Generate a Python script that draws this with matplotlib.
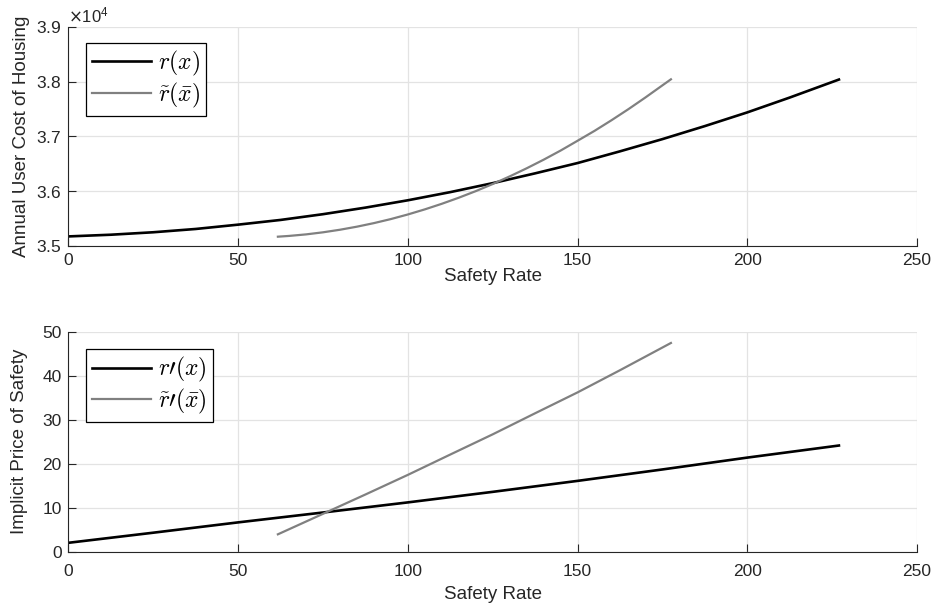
import numpy as np
import matplotlib
matplotlib.use("Agg")
import matplotlib.pyplot as plt
from matplotlib.ticker import ScalarFormatter

# Annual user cost of housing vs safety rate
r_x = [0, 12.5, 25, 37.5, 50, 62.5, 75, 87.5, 100, 112.5, 125, 137.5,
       150, 162.5, 175, 187.5, 200, 212.5, 227]
r_y = [35175, 35206, 35251, 35311, 35390, 35476, 35581, 35701, 35835, 35984,
       36148, 36327, 36515, 36729, 36952, 37190, 37440, 37711, 38040]

rt_x = [61.7, 65, 70, 75, 80, 85, 90, 95, 100, 105, 110, 115, 120, 125,
        130, 135, 140, 145, 150, 155, 160, 165, 170, 175, 177.5]
rt_y = [35170, 35184, 35212, 35250, 35297, 35353, 35418, 35492, 35576, 35669,
        35771, 35882, 36002, 36132, 36271, 36419, 36576, 36743, 36922, 37103,
        37297, 37500, 37713, 37934, 38044]

# Implicit price of safety (derivatives)
dr_x = [0, 25, 50, 75, 100, 125, 150, 175, 200, 227]
dr_y = [2.0, 4.3, 6.65, 8.9, 11.2, 13.6, 16.1, 18.7, 21.4, 24.15]

drt_x = [61.7, 75, 87.5, 100, 112.5, 125, 137.5, 150, 162.5, 177.5]
drt_y = [3.93, 8.6, 13.0, 17.47, 22.1, 26.7, 31.5, 36.25, 41.3, 47.5]

plt.rcParams['font.family'] = ['Liberation Sans', 'DejaVu Sans']
axis_col = '#262626'
grid_col = '#e3e3e3'

fig = plt.figure(figsize=(9.38, 6.13), dpi=100)
ax1 = fig.add_axes([0.073, 0.5987, 0.9046, 0.3573])
ax2 = fig.add_axes([0.073, 0.1002, 0.9046, 0.3582])


def style(ax, pad, labelpad):
    for s in ['top', 'right']:
        ax.spines[s].set_visible(False)
    for s in ['left', 'bottom']:
        ax.spines[s].set_color(axis_col)
        ax.spines[s].set_linewidth(0.8)
    ax.tick_params(direction='in', length=6, width=0.8, colors=axis_col,
                   labelsize=12.5, pad=5)
    ax.tick_params(axis='x', pad=pad)
    ax.grid(True, color=grid_col, linewidth=0.9)
    ax.set_axisbelow(True)
    ax.set_xlim(0, 250)
    ax.set_xticks([0, 50, 100, 150, 200, 250])
    ax.set_xlabel('Safety Rate', fontsize=13.5, color=axis_col,
                  labelpad=labelpad)


style(ax1, 5, 0)
ax1.plot(r_x, r_y, color='black', lw=1.9, label=r'$r(x)$')
ax1.plot(rt_x, rt_y, color='#808080', lw=1.6, label=r'$\tilde{r}(\bar{x})$')
ax1.set_ylim(35000, 39000)
ax1.set_yticks([35000, 36000, 37000, 38000, 39000])
fmt = ScalarFormatter(useMathText=True)
fmt.set_powerlimits((0, 0))
ax1.yaxis.set_major_formatter(fmt)
ax1.yaxis.get_offset_text().set_fontsize(12)
ax1.set_ylabel('Annual User Cost of Housing', fontsize=13.5, color=axis_col,
               labelpad=4)

style(ax2, 9, 5)
ax2.plot(dr_x, dr_y, color='black', lw=1.9, label=r'$r\prime(x)$')
ax2.plot(drt_x, drt_y, color='#808080', lw=1.6,
         label=r'$\tilde{r}\prime(\bar{x})$')
ax2.set_ylim(0, 50)
ax2.set_yticks([0, 10, 20, 30, 40, 50])
ax2.set_ylabel('Implicit Price of Safety', fontsize=13.5, color=axis_col,
               labelpad=10)

for ax, anchor in [(ax1, (0.0206, 0.9256)), (ax2, (0.0206, 0.921))]:
    leg = ax.legend(loc='upper left', bbox_to_anchor=anchor, borderaxespad=0,
                    fancybox=False, framealpha=1, edgecolor='black',
                    handlelength=2.5, handletextpad=0.3, labelspacing=0.12,
                    borderpad=0.25, prop={'size': 17})
    leg.get_frame().set_linewidth(0.9)
    for t in leg.get_texts():
        t.set_math_fontfamily('cm')

fig.savefig('out.png', dpi=100)
